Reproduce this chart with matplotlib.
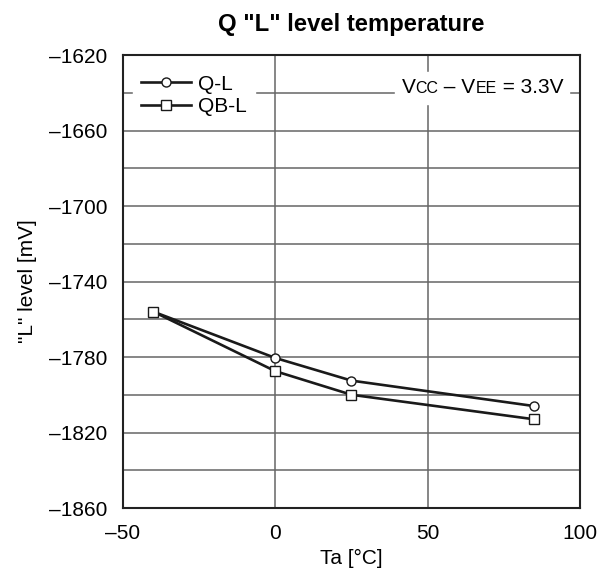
import numpy as np
import matplotlib.pyplot as plt
import matplotlib as mpl
from matplotlib.ticker import FuncFormatter, MultipleLocator
from matplotlib.offsetbox import TextArea, HPacker, AnchoredOffsetbox

mpl.rcParams['font.family'] = ['Liberation Sans', 'DejaVu Sans']
mpl.rcParams['font.size'] = 15

# data
ta = [-40, 0, 25, 85]
q_l = [-1756, -1780.5, -1792.5, -1806]
qb_l = [-1756, -1787.5, -1800, -1813]

x_ticks = [-50, 0, 50, 100]
y_ticks = [-1860, -1820, -1780, -1740, -1700, -1660, -1620]

fig = plt.figure(figsize=(6.07, 5.75), dpi=100)
ax = fig.add_axes([0.2026, 0.1165, 0.7529, 0.7878])

ax.plot(ta, q_l, color='#1a1a1a', lw=1.9, marker='o', ms=6.5, mfc='white',
        mec='#1a1a1a', mew=1, label='Q-L', zorder=3)
ax.plot(ta, qb_l, color='#1a1a1a', lw=1.9, marker='s', ms=6.5, mfc='white',
        mec='#1a1a1a', mew=1, label='QB-L', zorder=3)

ax.set_xlim(-50, 100)
ax.set_ylim(-1860, -1620)
ax.set_xticks(x_ticks)
ax.set_yticks(y_ticks)
ax.yaxis.set_minor_locator(MultipleLocator(20))
ax.grid(which='both', axis='y', color='#666666', lw=1.1)
ax.grid(which='major', axis='x', color='#666666', lw=1.1)
ax.tick_params(which='both', length=0, pad=11.5)
dash = FuncFormatter(lambda v, p: f'{v:g}'.replace('-', '\u2013'))
ax.xaxis.set_major_formatter(dash)
ax.yaxis.set_major_formatter(dash)
for s in ax.spines.values():
    s.set_linewidth(1.5)
    s.set_color('#222222')

ax.set_xlabel('Ta [°C]', labelpad=4)
ax.set_ylabel('"L" level [mV]', labelpad=8)
ax.set_title('Q "L" level temperature', fontweight='bold', fontsize=17.2, pad=17)

leg = ax.legend(loc='upper left', handlelength=2.4, handletextpad=0.3,
                labelspacing=0.15, borderpad=0.4, borderaxespad=0,
                bbox_to_anchor=(0.022, 0.975),
                fancybox=False, framealpha=1, edgecolor='white')
leg.set_zorder(4)

# "VCC – VEE = 3.3V" with small-caps subscripts
parts = [('V', 15), ('CC', 11.5), (' \u2013 V', 15), ('EE', 11.5), (' = 3.3V', 15)]
box = HPacker(children=[TextArea(t, textprops=dict(size=s)) for t, s in parts],
              align='baseline', pad=0, sep=0)
anch = AnchoredOffsetbox(loc='upper right', child=box, pad=0.3, borderpad=0,
                         frameon=True, bbox_to_anchor=(0.977, 0.962),
                         bbox_transform=ax.transAxes)
anch.patch.set_edgecolor('white')
anch.patch.set_facecolor('white')
anch.set_zorder(4)
ax.add_artist(anch)

fig.savefig('out.png', dpi=100)
